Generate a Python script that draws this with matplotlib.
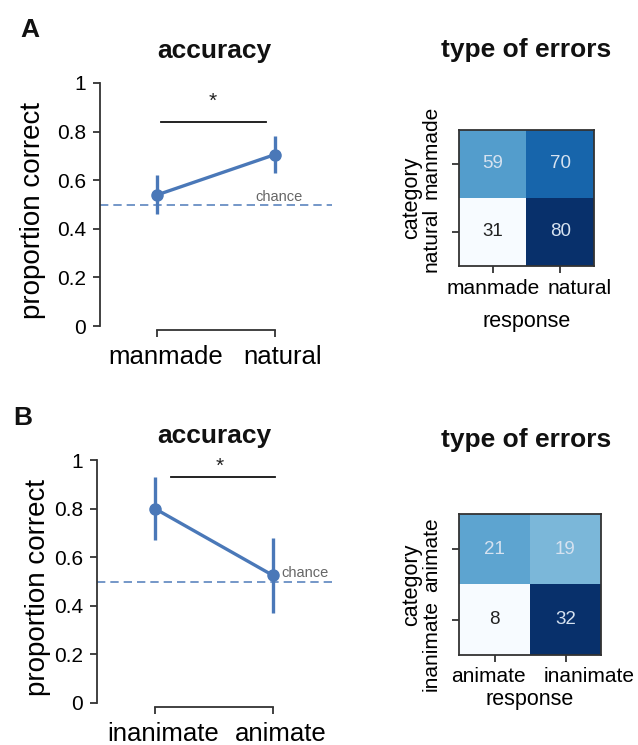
import numpy as np
import matplotlib.pyplot as plt
from matplotlib.transforms import ScaledTranslation

plt.rcParams['font.family'] = ['Liberation Sans', 'DejaVu Sans']
plt.rcParams['text.color'] = '#222222'

# accuracy: mean proportion correct and error-bar half-widths
cats_a = ['manmade', 'natural']
acc_a = [0.54, 0.705]
err_a = [0.08, 0.075]

cats_b = ['inanimate', 'animate']
acc_b = [0.80, 0.525]
err_b = [0.13, 0.155]

chance = 0.5

# confusion counts: rows = category, cols = response
resp_a = ['manmade', 'natural']
conf_a = [[59, 70],
          [31, 80]]
resp_b = ['animate', 'inanimate']
conf_b = [[21, 19],
          [8, 32]]

yticks = [0, 0.2, 0.4, 0.6, 0.8, 1]
ytick_labels = ['0', '0.2', '0.4', '0.6', '0.8', '1']

W, H = 638, 745
blue = '#4a78b8'
spine_col = '#333333'

fig = plt.figure(figsize=(W / 100, H / 100), dpi=100)


def rect(left, top, right, bottom):
    return [left / W, 1 - bottom / H, (right - left) / W, (bottom - top) / H]


def nudge(label, dx, dy):
    # shift a tick label by (dx, dy) pixels
    off = ScaledTranslation(dx / 100, dy / 100, fig.dpi_scale_trans)
    label.set_transform(label.get_transform() + off)


def accuracy_panel(r, cats, acc, err, xlim, sig, star, chance_pos, ylab_x):
    ax = fig.add_axes(r)
    x = np.arange(len(cats))
    ax.axhline(chance, color=blue, ls=(0, (5, 3)), lw=1.2, alpha=0.9)
    ax.errorbar(x, acc, yerr=err, fmt='-o', color=blue, lw=2.4, ms=8,
                elinewidth=2.4, capsize=0, clip_on=False, zorder=3)
    ax.plot(sig[:2], [sig[2]] * 2, color='#111111', lw=1.3, clip_on=False)
    ax.text(star[0], star[1], '*', ha='center', va='center', fontsize=15)
    ax.text(chance_pos[0], chance_pos[1], 'chance', ha='left', va='baseline',
            fontsize=10.5, color='#666666')
    ax.set_xlim(*xlim)
    ax.set_ylim(0, 1)
    for s in ['top', 'right']:
        ax.spines[s].set_visible(False)
    ax.spines['left'].set_bounds(0, 1)
    ax.spines['bottom'].set_bounds(0, 1)
    ax.spines['bottom'].set_position(('outward', 3))
    for s in ['left', 'bottom']:
        ax.spines[s].set_color(spine_col)
        ax.spines[s].set_linewidth(1.3)
    ax.set_yticks(yticks)
    ax.set_yticklabels(ytick_labels, fontsize=15)
    ax.set_xticks(x)
    ax.set_xticklabels(cats, fontsize=18.5)
    ax.tick_params(axis='both', direction='out', length=5, width=1.3,
                   color=spine_col)
    ax.tick_params(axis='y', pad=5)
    ax.tick_params(axis='x', pad=6)
    for lab in ax.get_xticklabels():
        nudge(lab, 8, 0)
    ax.set_ylabel('proportion correct', fontsize=20)
    ax.yaxis.label.set_va('center')
    ax.yaxis.set_label_coords(ylab_x, 0.475)
    return ax


def error_panel(r, counts, labels, lo_text, xshift, yshift):
    ax = fig.add_axes(r)
    m = np.array(counts)
    ax.imshow(m, cmap='Blues', vmin=m.min(), vmax=m.max(), aspect='auto')
    for i in range(m.shape[0]):
        for j in range(m.shape[1]):
            light = m[i, j] <= lo_text
            ax.text(j, i, str(m[i, j]), ha='center', va='center', fontsize=13.5,
                    color='#222222' if light else '#d6e2f0')
    ax.set_xticks([0, 1])
    ax.set_xticklabels(labels, fontsize=15)
    ax.set_yticks([0, 1])
    ax.set_yticklabels(labels, fontsize=15, rotation=90, va='center')
    ax.tick_params(direction='out', length=5, width=1.3, color=spine_col)
    ax.tick_params(axis='x', pad=4)
    ax.tick_params(axis='y', pad=8)
    for lab, dx in zip(ax.get_xticklabels(), xshift):
        nudge(lab, dx, 0)
    for lab, dy in zip(ax.get_yticklabels(), yshift):
        nudge(lab, 0, dy)
    for s in ax.spines.values():
        s.set_color(spine_col)
        s.set_linewidth(1.3)
    ax.set_xlabel('response', fontsize=15.5, labelpad=2)
    ax.set_ylabel('category', fontsize=15.5, labelpad=0)
    return ax


# panel A
accuracy_panel(rect(100, 83, 332, 326), cats_a, acc_a, err_a,
               xlim=(-0.49, 1.49), sig=(0.03, 0.93, 0.84), star=(0.47, 0.925),
               chance_pos=(0.84, 0.515), ylab_x=-0.29)
ax_ea = error_panel(rect(459, 130, 594, 266), conf_a, resp_a, lo_text=40,
                    xshift=(0, 19), yshift=(12, -8))
ax_ea.xaxis.labelpad = 10

# panel B
accuracy_panel(rect(97, 460, 332, 703), cats_b, acc_b, err_b,
               xlim=(-0.49, 1.5), sig=(0.14, 1.02, 0.93), star=(0.55, 0.975),
               chance_pos=(1.07, 0.52), ylab_x=-0.25)
error_panel(rect(459, 514, 601, 655), conf_b, resp_b, lo_text=12,
            xshift=(-6, 24), yshift=(-5, -26))

# titles and panel letters
for x, y, s in [(214, 58, 'accuracy'), (526, 57, 'type of errors'),
                (214, 443, 'accuracy'), (526, 447, 'type of errors')]:
    fig.text(x / W, 1 - y / H, s, ha='center', va='baseline',
             fontsize=19, fontweight='bold', color='#111111')
fig.text(20 / W, 1 - 37 / H, 'A', ha='left', va='baseline', fontsize=19,
         fontweight='bold', color='#111111')
fig.text(13 / W, 1 - 425 / H, 'B', ha='left', va='baseline', fontsize=19,
         fontweight='bold', color='#111111')

fig.savefig('out.png', dpi=100, facecolor='white')
